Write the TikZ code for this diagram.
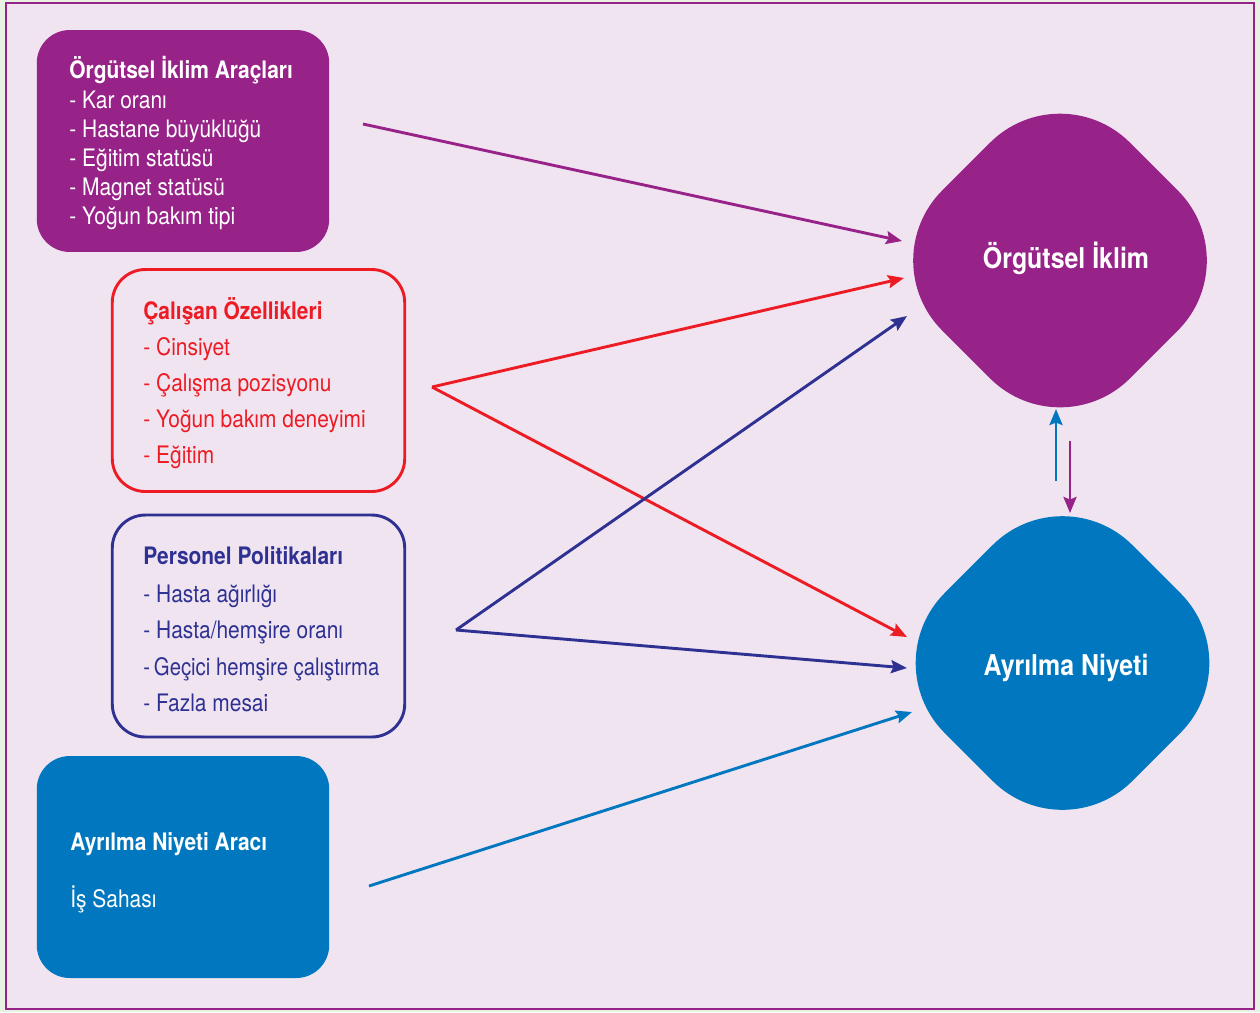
\documentclass[tikz,border=0pt]{standalone}
\usepackage{fontspec}
\setmainfont[FakeStretch=0.87]{TeX Gyre Heros}
\usetikzlibrary{shapes.geometric,arrows.meta}
\definecolor{cpurple}{RGB}{152,35,136}
\definecolor{cred}{RGB}{237,28,36}
\definecolor{cnavy}{RGB}{46,49,146}
\definecolor{cblue}{RGB}{0,119,190}
\definecolor{pinkbg}{RGB}{240,228,241}
\definecolor{outerbg}{RGB}{232,242,226}
\tikzset{
  box/.style={rectangle, rounded corners=0.66cm, inner sep=0pt, minimum width=5.85cm, minimum height=4.44cm},
  filledbox/.style={box, fill=#1},
  linebox/.style={box, draw=#1, line width=0.058cm},
  blob/.style={diamond, aspect=1, inner sep=0pt, minimum width=7.52cm, minimum height=7.52cm, rounded corners=1.98cm, fill=#1},
  itemtxt/.style={anchor=base west, inner sep=0pt, font=\fontsize{13.7pt}{16pt}\selectfont, text=#1},
  titletxt/.style={anchor=base west, inner sep=0pt, font=\fontsize{13.7pt}{16pt}\selectfont\bfseries, text=#1},
  bigtxt/.style={inner sep=0pt, font=\fontsize{16.3pt}{19pt}\selectfont\bfseries, text=white},
  arr/.style={draw=#1, line width=0.058cm, -{Stealth[length=0.32cm, width=0.26cm, inset=0.05cm]}}
}
\begin{document}
\begin{tikzpicture}[x=0.02cm, y=-0.02cm]
\fill[outerbg] (0,0) rectangle (1260,1012);
\draw[cpurple, line width=0.05cm, fill=pinkbg] (6,3) rectangle (1254,1009);
\useasboundingbox (0,0) rectangle (1260,1012);

% boxes
\node[filledbox=cpurple] (tools) at (183,141) {};
\node[linebox=cred] (emp) at (258.5,380.5) {};
\node[linebox=cnavy] (pers) at (258.5,626) {};
\node[filledbox=cblue] (quit) at (183,867) {};

% blobs
\node[blob=cpurple] (climate) at (1060,260.5) {};
\node[blob=cblue] (intent) at (1062.5,663) {};
\node[bigtxt] (climatetxt) at (1066,258) {Örgütsel İklim};
\node[bigtxt] (intenttxt) at (1066,668) {Ayrılma Niyeti};

% texts box 1
\node[titletxt=white] (t1) at (69,78) {Örgütsel İklim Araçları};
\node[itemtxt=white] (t1a) at (69,108) {- Kar oranı};
\node[itemtxt=white] (t1b) at (69,137) {- Hastane büyüklüğü};
\node[itemtxt=white] (t1c) at (69,166) {- Eğitim statüsü};
\node[itemtxt=white] (t1d) at (69,195) {- Magnet statüsü};
\node[itemtxt=white] (t1e) at (69,224) {- Yoğun bakım tipi};

% texts box 2
\node[titletxt=cred] (t2) at (143,319) {Çalışan Özellikleri};
\node[itemtxt=cred] (t2a) at (143,355) {- Cinsiyet};
\node[itemtxt=cred] (t2b) at (143,391) {- Çalışma pozisyonu};
\node[itemtxt=cred] (t2c) at (143,427) {- Yoğun bakım deneyimi};
\node[itemtxt=cred] (t2d) at (143,463) {- Eğitim};

% texts box 3
\node[titletxt=cnavy] (t3) at (143,564) {Personel Politikaları};
\node[itemtxt=cnavy] (t3a) at (143,602) {- Hasta ağırlığı};
\node[itemtxt=cnavy] (t3b) at (143,638.5) {- Hasta/hemşire oranı};
\node[itemtxt=cnavy, xscale=0.97] (t3c) at (143,675) {-\,Geçici hemşire çalıştırma};
\node[itemtxt=cnavy] (t3d) at (143,711.5) {- Fazla mesai};

% texts box 4
\node[titletxt=white] (t4) at (70,850) {Ayrılma Niyeti Aracı};
\node[itemtxt=white] (t4a) at (70,907) {İş Sahası};

% connector endpoints
\coordinate (p1) at (363,124);
\coordinate (redhub) at (432,387);
\coordinate (navyhub) at (456,630);
\coordinate (b1) at (369,886);
\coordinate (ctipA) at (902,241);
\coordinate (ctipB) at (904,278);
\coordinate (ctipC) at (907,316);
\coordinate (itipA) at (907,637);
\coordinate (itipB) at (907,668);
\coordinate (itipC) at (912,712);
\coordinate (upS) at (1056,481);
\coordinate (upE) at (1056,409);
\coordinate (dnS) at (1070,441);
\coordinate (dnE) at (1070,513);

\draw[arr=cpurple] (p1) -- (ctipA);
\draw[arr=cred] (redhub) -- (ctipB);
\draw[arr=cred] (redhub) -- (itipA);
\draw[arr=cnavy] (navyhub) -- (ctipC);
\draw[arr=cnavy] (navyhub) -- (itipB);
\draw[arr=cblue] (b1) -- (itipC);
\draw[arr=cblue] (upS) -- (upE);
\draw[arr=cpurple] (dnS) -- (dnE);
\end{tikzpicture}
\end{document}
